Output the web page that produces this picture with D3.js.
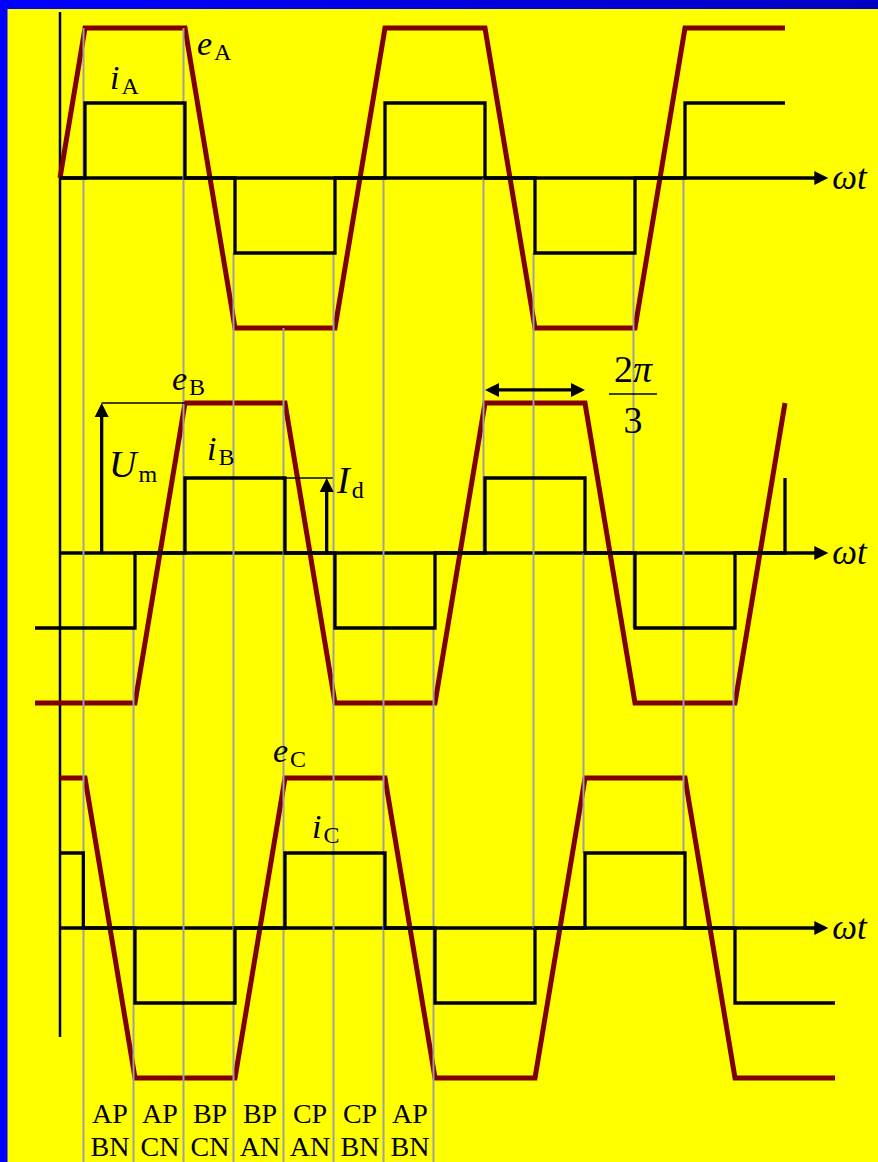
<!DOCTYPE html>
<html>
<head>
<meta charset="utf-8">
<script src="https://cdn.jsdelivr.net/npm/d3@7"></script>
<style>
html, body { margin: 0; padding: 0; background: #ffff00; }
svg { display: block; }
text { font-family: "Liberation Serif", "Times New Roman", serif; fill: #000; }
</style>
</head>
<body>
<svg id="chart" width="878" height="1162"></svg>
<script>
// angle in degrees (omega t), level in units of Um (e) or Id (i)
const phases = ["A", "B", "C"];

const eA = [[0,0],[30,1],[150,1],[210,-1],[330,-1],[390,1],[510,1],[570,-1],[690,-1],[750,1],[870,1]];
const iA = [[0,0],[30,0],[30,1],[150,1],[150,0],[210,0],[210,-1],[330,-1],[330,0],[390,0],[390,1],[510,1],[510,0],
            [570,0],[570,-1],[690,-1],[690,0],[750,0],[750,1],[870,1]];

const eB = [[-30,-1],[90,-1],[150,1],[270,1],[330,-1],[450,-1],[510,1],[630,1],[690,-1],[810,-1],[870,1]];
const iB = [[-30,-1],[90,-1],[90,0],[150,0],[150,1],[270,1],[270,0],[330,0],[330,-1],[450,-1],[450,0],[510,0],
            [510,1],[630,1],[630,0],[690,0],[690,-1],[810,-1],[810,0],[870,0],[870,1]];

const eC = [[0,1],[30,1],[90,-1],[210,-1],[270,1],[390,1],[450,-1],[570,-1],[630,1],[750,1],[810,-1],[930,-1]];
const iC = [[0,1],[28,1],[28,0],[90,0],[90,-1],[210,-1],[210,0],[270,0],[270,1],[390,1],[390,0],[450,0],
            [450,-1],[570,-1],[570,0],[630,0],[630,1],[750,1],[750,0],[810,0],[810,-1],[930,-1]];

// commutation instants and where the thin grey guides start / stop  (null = runs to the bottom)
const switchDeg  = [30, 90, 150, 210, 270, 330, 390, 450, 510, 570, 630, 690, 750, 810];
const switchFrom = [["A","e",1],["B","i",-1],["A","e",1],["A","i",-1],["A","e",-1],["A","i",-1],["A","i",0],
                    ["B","i",-1],["A","i",0],["A","i",-1],["B","i",0],["A","i",-1],["A","i",0],["B","i",-1]];
const switchTo   = [null, null, null, null, null, null, null, null,
                    ["B","i",0],["C","i",0],["C","i",1],["B","i",-1],["C","i",1],["C","i",0]];

// conducting switch pairs, one per 60 deg interval starting at 30 deg
const conductTop = ["AP","AP","BP","BP","CP","CP","AP"];
const conductBot = ["BN","CN","CN","AN","AN","BN","BN"];

const svg = d3.select("#chart");
const W = 878, H = 1162;

// scales
const x = d3.scaleLinear().domain([0, 870]).range([60, 785]);
const panelY = d3.scalePoint().domain(phases).range([178, 928]);
const yE = d3.scaleLinear().domain([-1, 1]).range([150, -150]);
const yI = d3.scaleLinear().domain([-1, 1]).range([75, -75]);
const yOf = (p, kind, v) => panelY(p) + (kind === "e" ? yE(v) : yI(v));

// background + blue frame
svg.append("rect").attr("width", W).attr("height", H).attr("fill", "#ffff00");
const defs = svg.append("defs");
const grad = defs.append("linearGradient").attr("id", "topbar");
grad.append("stop").attr("offset", "0%").attr("stop-color", "#0000ff");
grad.append("stop").attr("offset", "100%").attr("stop-color", "#0000c4");
svg.append("rect").attr("x", 0).attr("y", 0).attr("width", W).attr("height", 9).attr("fill", "url(#topbar)");
svg.append("rect").attr("x", 0).attr("y", 0).attr("width", 7.5).attr("height", H).attr("fill", "#0000ff");

// vertical axis
svg.append("line")
  .attr("x1", x(0)).attr("x2", x(0))
  .attr("y1", 12).attr("y2", 1037)
  .attr("stroke", "#000").attr("stroke-width", 2.5);

// horizontal axes with arrows
const axisEnd = 922;
phases.forEach(p => {
  const y0 = panelY(p);
  svg.append("line")
    .attr("x1", x(0)).attr("x2", x(axisEnd) - 12)
    .attr("y1", y0).attr("y2", y0)
    .attr("stroke", "#000").attr("stroke-width", 3.3);
  svg.append("path")
    .attr("d", `M${x(axisEnd)},${y0} L${x(axisEnd) - 14},${y0 - 7} L${x(axisEnd) - 14},${y0 + 7} Z`)
    .attr("fill", "#000");
  svg.append("text")
    .attr("x", x(axisEnd) + 4).attr("y", y0 + 11)
    .attr("font-size", 35).attr("font-style", "italic")
    .text("ωt");
});

const line = (p, kind) => d3.line()
  .x(d => x(d[0]))
  .y(d => yOf(p, kind, d[1]));

// emf trapezoids
[[eA, "A"], [eB, "B"], [eC, "C"]].forEach(([data, p]) => {
  svg.append("path").datum(data)
    .attr("d", line(p, "e"))
    .attr("fill", "none").attr("stroke", "#800000")
    .attr("stroke-width", 5).attr("stroke-linejoin", "miter");
});

// grey commutation guides
svg.selectAll("line.guide").data(switchDeg).enter().append("line")
  .attr("class", "guide")
  .attr("x1", d => x(d) - 1.5).attr("x2", d => x(d) - 1.5)
  .attr("y1", (d, i) => yOf(...switchFrom[i]))
  .attr("y2", (d, i) => switchTo[i] ? yOf(...switchTo[i]) : H)
  .attr("stroke", "#a0a0a0").attr("stroke-width", 2);

// phase currents
[[iA, "A"], [iB, "B"], [iC, "C"]].forEach(([data, p]) => {
  svg.append("path").datum(data)
    .attr("d", line(p, "i"))
    .attr("fill", "none").attr("stroke", "#000")
    .attr("stroke-width", 3.3).attr("stroke-linejoin", "miter");
});

// Um and Id markers
const umDeg = 50, idDeg = 320;
function upArrow(deg, y1, y2) {
  const xx = x(deg);
  svg.append("line").attr("x1", xx).attr("x2", xx)
    .attr("y1", y1).attr("y2", y2 + 12)
    .attr("stroke", "#000").attr("stroke-width", 3.3);
  svg.append("path")
    .attr("d", `M${xx},${y2} L${xx - 7},${y2 + 14} L${xx + 7},${y2 + 14} Z`)
    .attr("fill", "#000");
}
upArrow(umDeg, yOf("B","e",0), yOf("B","e",1));
upArrow(idDeg, yOf("B","i",0), yOf("B","i",1));
svg.append("line").attr("x1", x(umDeg)).attr("x2", x(150))
  .attr("y1", yOf("B","e",1)).attr("y2", yOf("B","e",1))
  .attr("stroke", "#000").attr("stroke-width", 1.3);
svg.append("line").attr("x1", x(270)).attr("x2", x(idDeg) + 6)
  .attr("y1", yOf("B","i",1)).attr("y2", yOf("B","i",1))
  .attr("stroke", "#000").attr("stroke-width", 1.3);

// 2pi/3 double arrow
const spanDeg = [510, 630];
const ySpan = yOf("B","e",1.087);
svg.append("line").attr("x1", x(spanDeg[0]) + 10).attr("x2", x(spanDeg[1]) - 10)
  .attr("y1", ySpan).attr("y2", ySpan)
  .attr("stroke", "#000").attr("stroke-width", 3.3);
svg.append("path")
  .attr("d", `M${x(spanDeg[0])},${ySpan} L${x(spanDeg[0]) + 14},${ySpan - 7} L${x(spanDeg[0]) + 14},${ySpan + 7} Z`)
  .attr("fill", "#000");
svg.append("path")
  .attr("d", `M${x(spanDeg[1])},${ySpan} L${x(spanDeg[1]) - 14},${ySpan - 7} L${x(spanDeg[1]) - 14},${ySpan + 7} Z`)
  .attr("fill", "#000");
const frac = svg.append("text").attr("x", 633).attr("y", 382)
  .attr("font-size", 38).attr("text-anchor", "middle");
frac.append("tspan").text("2");
frac.append("tspan").attr("font-style", "italic").text("π");
svg.append("line").attr("x1", 609).attr("x2", 657).attr("y1", 394).attr("y2", 394)
  .attr("stroke", "#000").attr("stroke-width", 1.5);
svg.append("text").attr("x", 633).attr("y", 433)
  .attr("font-size", 38).attr("text-anchor", "middle").text("3");

// symbol labels: [main, sub, x, y, size]
const labels = [
  ["e", "A", 197, 55, 34],
  ["i", "A", 110, 89, 34],
  ["e", "B", 172, 390, 34],
  ["i", "B", 207, 460, 34],
  ["e", "C", 273, 762, 34],
  ["i", "C", 312, 838, 34],
  ["U", "m", 109, 477, 38],
  ["I", "d", 337, 493, 38]
];
labels.forEach(([m, s, lx, ly, fs]) => {
  const t = svg.append("text").attr("x", lx).attr("y", ly).attr("font-size", fs);
  t.append("tspan").attr("font-style", "italic").text(m);
  t.append("tspan").attr("font-size", 24).attr("dx", 2).attr("dy", 5).text(s);
});

// conduction intervals
conductTop.forEach((c, k) => {
  const cx = x(30 + 60 * k + 30);
  svg.append("text").attr("x", cx).attr("y", 1123)
    .attr("font-size", 28).attr("text-anchor", "middle").text(c);
  svg.append("text").attr("x", cx).attr("y", 1156)
    .attr("font-size", 28).attr("text-anchor", "middle").text(conductBot[k]);
});
</script>
</body>
</html>
